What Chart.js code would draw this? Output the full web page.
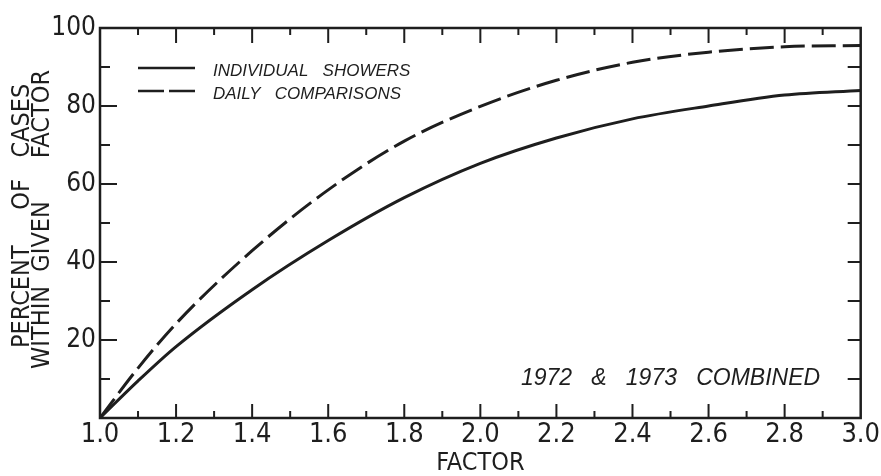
<!DOCTYPE html>
<html>
<head>
<meta charset="utf-8">
<title>Percent of cases within given factor</title>
<script src="https://cdn.jsdelivr.net/npm/chart.js@4.4.1/dist/chart.umd.min.js"></script>
<style>
  html, body { margin: 0; padding: 0; background: #fff; }
  #chart { display: block; }
</style>
</head>
<body>
<canvas id="chart" width="881" height="476"></canvas>
<script>
// Factor values along the x axis
const factors = [1.0, 1.1, 1.2, 1.4, 1.6, 1.8, 2.0, 2.2, 2.4, 2.6, 2.8, 3.0];

// Percent of cases within the given factor
const individualShowers = [0, 9.5, 18.3, 32.9, 45.5, 56.5, 65.3, 71.8, 76.7, 80.0, 82.8, 84.0];
const dailyComparisons = [0, 12.8, 24.2, 42.9, 58.5, 71.0, 79.9, 86.6, 91.2, 93.8, 95.2, 95.5];

// Labelled ticks
const xTicks = [1.0, 1.2, 1.4, 1.6, 1.8, 2.0, 2.2, 2.4, 2.6, 2.8, 3.0];
const yTicks = [20, 40, 60, 80, 100];

const seriesNames = ["INDIVIDUAL   SHOWERS", "DAILY   COMPARISONS"];
const note = "1972   &   1973   COMBINED";

const INK = "#1e1e1e";
const NARROW = "'Liberation Sans Narrow', 'DejaVu Sans Condensed', 'Liberation Sans', sans-serif";
const PLAIN = "'Liberation Sans', 'DejaVu Sans', sans-serif";

/**
 * Box around the plot with inward tick marks on all four sides
 */
const frameTicks = {
  id: "frameTicks",
  afterDatasetsDraw(chart) {
    const { ctx, chartArea: a, scales } = chart;
    const x = scales.x;
    const y = scales.y;
    ctx.save();
    ctx.strokeStyle = INK;
    ctx.lineWidth = 2.5;
    ctx.strokeRect(a.left, a.top, a.right - a.left, a.bottom - a.top);

    ctx.lineWidth = 2;
    ctx.beginPath();
    // every 0.1 along the factor axis, longer at each 0.2
    for (let i = 1; i < 20; i++) {
      const px = x.getPixelForValue(1 + i / 10);
      const major = i % 2 === 0;
      ctx.moveTo(px, a.bottom);
      ctx.lineTo(px, a.bottom - (major ? 14 : 7));
      ctx.moveTo(px, a.top);
      ctx.lineTo(px, a.top + (major ? 15 : 7));
    }
    // every 10 percent, longer at each 20 on the left
    for (let v = 10; v < 100; v += 10) {
      const py = y.getPixelForValue(v);
      ctx.moveTo(a.left, py);
      ctx.lineTo(a.left + (v % 20 === 0 ? 17 : 10), py);
      ctx.moveTo(a.right, py);
      ctx.lineTo(a.right - 13, py);
    }
    ctx.stroke();
    ctx.restore();
  },
};

/**
 * Line samples and names in the upper left of the plot,
 * plus the note in the lower right
 */
const insetText = {
  id: "insetText",
  afterDraw(chart) {
    const { ctx, chartArea: a, scales } = chart;
    ctx.save();
    ctx.fillStyle = INK;
    ctx.strokeStyle = INK;
    ctx.textBaseline = "middle";
    ctx.font = "italic 17px " + PLAIN;

    chart.data.datasets.forEach((ds, i) => {
      const rowY = a.top + 40 + i * 23;
      ctx.lineWidth = 2.5;
      ctx.setLineDash(ds.borderDash ? [26, 5] : []);
      ctx.beginPath();
      ctx.moveTo(a.left + 38, rowY);
      ctx.lineTo(a.left + 95, rowY);
      ctx.stroke();
      ctx.setLineDash([]);
      ctx.fillText(ds.label, a.left + 113, rowY + 3);
    });

    ctx.font = "italic 23px " + PLAIN;
    ctx.textAlign = "center";
    ctx.fillText(note, scales.x.getPixelForValue(2.5), scales.y.getPixelForValue(10));
    ctx.restore();
  },
};

const ctx = document.getElementById("chart").getContext("2d");

new Chart(ctx, {
  type: "line",
  data: {
    datasets: [
      {
        label: seriesNames[0],
        data: factors.map((f, i) => ({ x: f, y: individualShowers[i] })),
        borderColor: INK,
        borderWidth: 3,
        pointRadius: 0,
        cubicInterpolationMode: "monotone",
        fill: false,
      },
      {
        label: seriesNames[1],
        data: factors.map((f, i) => ({ x: f, y: dailyComparisons[i] })),
        borderColor: INK,
        borderWidth: 3,
        borderDash: [24, 7],
        pointRadius: 0,
        cubicInterpolationMode: "monotone",
        fill: false,
      },
    ],
  },
  options: {
    responsive: false,
    animation: false,
    layout: { padding: { top: 28, right: 19, left: 0, bottom: 0 } },
    plugins: {
      legend: { display: false },
      tooltip: { enabled: false },
    },
    scales: {
      x: {
        type: "linear",
        min: 1,
        max: 3,
        grid: { display: false, drawTicks: false },
        border: { display: false },
        afterBuildTicks(axis) {
          axis.ticks = xTicks.map((v) => ({ value: v }));
        },
        afterFit(axis) {
          axis.height = 58;
        },
        ticks: {
          color: INK,
          font: { family: NARROW, size: 27 },
          padding: 1,
          maxRotation: 0,
          autoSkip: false,
          callback: (v) => Number(v).toFixed(1),
        },
        title: {
          display: true,
          text: "FACTOR",
          color: INK,
          font: { family: NARROW, size: 25, lineHeight: 1 },
          padding: { top: -3, bottom: 0 },
        },
      },
      y: {
        type: "linear",
        min: 0,
        max: 100,
        grid: { display: false, drawTicks: false },
        border: { display: false },
        afterBuildTicks(axis) {
          axis.ticks = yTicks.map((v) => ({ value: v }));
        },
        afterFit(axis) {
          axis.width = 100;
        },
        ticks: {
          color: INK,
          font: { family: NARROW, size: 26 },
          padding: 4,
        },
        title: {
          display: true,
          text: ["   PERCENT     OF   CASES ", "  WITHIN  GIVEN      FACTOR "],
          color: INK,
          font: { family: NARROW, size: 25, lineHeight: 0.8 },
          padding: { top: 12, bottom: 0 },
        },
      },
    },
  },
  plugins: [frameTicks, insetText],
});
</script>
</body>
</html>
